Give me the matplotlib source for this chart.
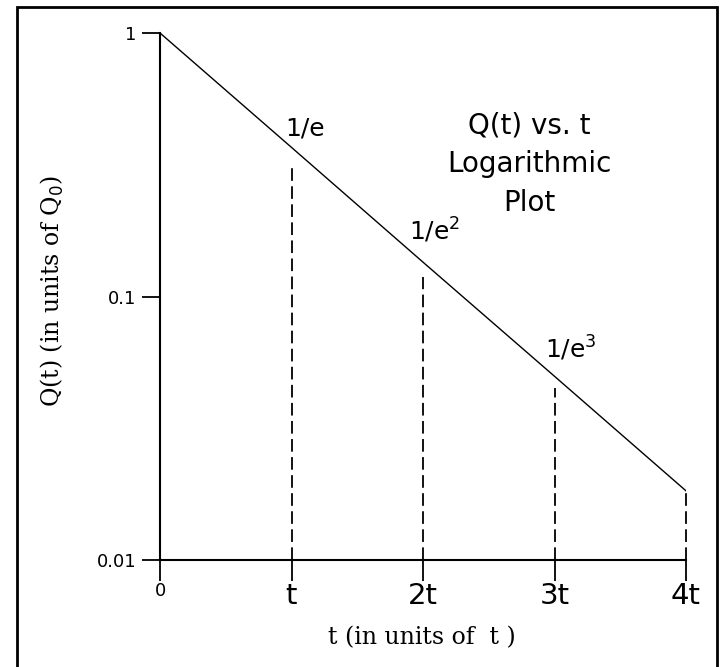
import numpy as np
import matplotlib.pyplot as plt
from matplotlib.patches import Rectangle

# --- 数据 ---
t_vals = [0, 1, 2, 3, 4]
q_vals = [1.0, 0.368, 0.135, 0.0498, 0.0183]

# 虚线的顶端 (略低于曲线)
drop_t = [1, 2, 3, 4]
drop_top = [0.315, 0.119, 0.045, 0.0183]

x_ticks = [0, 1, 2, 3, 4]
x_ticklabels = ['0', 't', '2t', '3t', '4t']
y_ticks = [0.01, 0.1, 1]
y_ticklabels = ['0.01', '0.1', '1']

point_labels = ['1/e', '1/e$^{2}$', '1/e$^{3}$']
point_label_pos = [(0.95, 0.41), (1.89, 0.164), (2.93, 0.0584)]

W, H = 720, 667
fig = plt.figure(figsize=(W / 100, H / 100), dpi=100)
ax = fig.add_axes([160 / W, (H - 560) / H, (686 - 160) / W, (560 - 33) / H])

ax.plot(t_vals, q_vals, color='black', lw=1.0)
for tx, top in zip(drop_t, drop_top):
    ax.plot([tx, tx], [0.01, top], color='black', lw=1.3, ls=(0, (7, 3)),
            clip_on=False)

ax.set_yscale('log')
ax.set_xlim(0, 4)
ax.set_ylim(0.01, 1)
ax.set_xticks(x_ticks)
ax.set_xticklabels(x_ticklabels, fontsize=21)
ax.get_xticklabels()[0].set_fontsize(13)
ax.set_yticks(y_ticks)
ax.set_yticklabels(y_ticklabels, fontsize=13)
ax.yaxis.set_minor_locator(plt.NullLocator())
ax.tick_params(axis='x', direction='out', length=15, width=1.3, pad=1)
ax.tick_params(axis='y', direction='out', length=13, width=1.3, pad=4)
for s in ['top', 'right']:
    ax.spines[s].set_visible(False)
for s in ['left', 'bottom']:
    ax.spines[s].set_linewidth(1.5)
ax.spines['left'].set_bounds(0.01, 1)

for lab, (px, py) in zip(point_labels, point_label_pos):
    ax.text(px, py, lab, fontsize=18, ha='left', va='baseline')

ax.text(2.81, 0.318, 'Q(t) vs. t\nLogarithmic\nPlot', fontsize=20, ha='center',
        va='center', linespacing=1.5)

fig.text(52 / W, 1 - 291 / H, 'Q(t) (in units of Q$_0$)', rotation=90,
         fontsize=17, family='DejaVu Serif', ha='center', va='center')
fig.text(422 / W, 1 - 638 / H, 't (in units of  t )', fontsize=17,
         family='DejaVu Serif', ha='center', va='center')

# 外框
fig.patches.append(Rectangle((17 / W, -0.05), (717 - 17) / W, 1.05 - 7 / H,
                             transform=fig.transFigure, fill=False,
                             edgecolor='black', lw=2))

plt.savefig('out.png', dpi=100)
